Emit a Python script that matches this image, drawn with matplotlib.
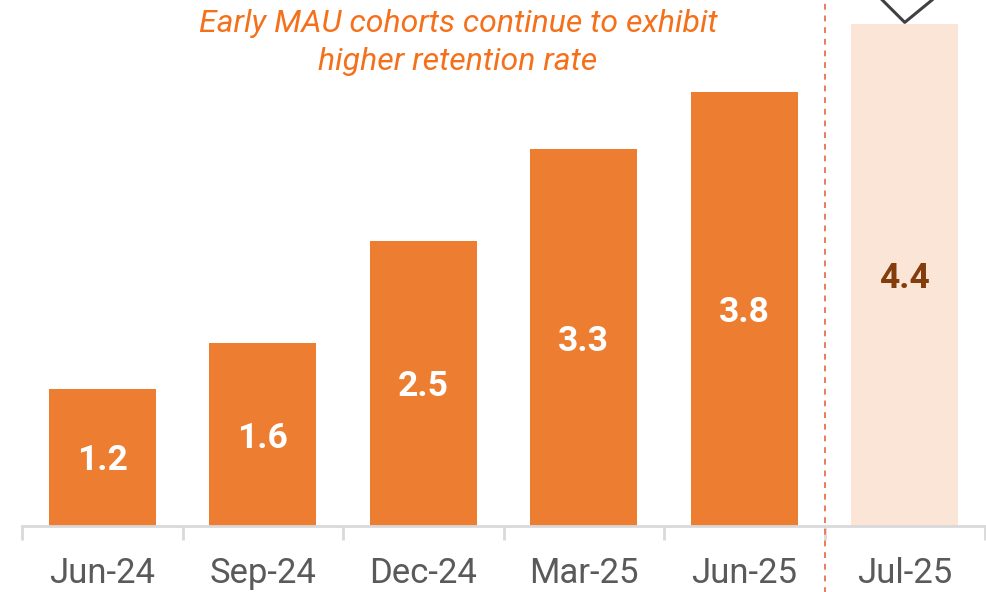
import matplotlib.pyplot as plt
from matplotlib.lines import Line2D

# Data
periods = ['Jun-24', 'Sep-24', 'Dec-24', 'Mar-25', 'Jun-25', 'Jul-25']
values = [1.2, 1.6, 2.5, 3.3, 3.8, 4.4]
highlight = [False, False, False, False, False, True]

orange = '#ED7D31'
light = '#FBE5D6'
grey = '#D9D9D9'

plt.rcParams['font.family'] = ['Roboto', 'DejaVu Sans']

fig = plt.figure(figsize=(9.86, 5.92), dpi=100)
ax = fig.add_axes([22/986, 66/592, 963/986, 526/592])

x = list(range(len(periods)))
colors = [light if h else orange for h in highlight]
bars = ax.bar(x, values, width=0.667, color=colors, zorder=2)

# value labels in the middle of each bar
for b, v, h in zip(bars, values, highlight):
    ax.text(b.get_x() + b.get_width() / 2, v / 2, f'{v:.1f}',
            ha='center', va='center_baseline', fontsize=25.5, fontweight='bold',
            color='#843C0C' if h else 'white')

ax.set_xlim(-0.5, len(periods) - 0.5)
ax.set_ylim(0, 4.606)

# axis styling
for s in ['top', 'right', 'left']:
    ax.spines[s].set_visible(False)
ax.spines['bottom'].set_color(grey)
ax.spines['bottom'].set_linewidth(2)
ax.set_yticks([])
ax.set_xticks(x)
ax.set_xticklabels(periods, fontsize=25, color='#5A5A5A')
ax.tick_params(axis='x', which='major', length=0, pad=22)
ax.set_xticks([i - 0.5 for i in range(len(periods) + 1)], minor=True)
ax.tick_params(axis='x', which='minor', length=10, width=2, color=grey)

# dashed separator before the latest month
ax.axvline(4.5, ymin=-0.13, ymax=1, color='#EB7A5E', linestyle=(0, (3, 3)),
           linewidth=1.4, clip_on=False, zorder=3)

# chevron marker above the last bar
chev_x = [5 - 0.14, 5, 5 + 0.17]
ax.add_line(Line2D(chev_x, [4.606, 4.41, 4.606], color='#404040', linewidth=2.2,
                   clip_on=False, zorder=4))

# annotation
fig.text(458/986, 1 - 24/592, 'Early MAU cohorts continue to exhibit',
         ha='center', va='center', fontsize=23, style='italic', color='#F5701B')
fig.text(458/986, 1 - 62/592, 'higher retention rate',
         ha='center', va='center', fontsize=23, style='italic', color='#F5701B')

plt.savefig('out.png', dpi=100)
